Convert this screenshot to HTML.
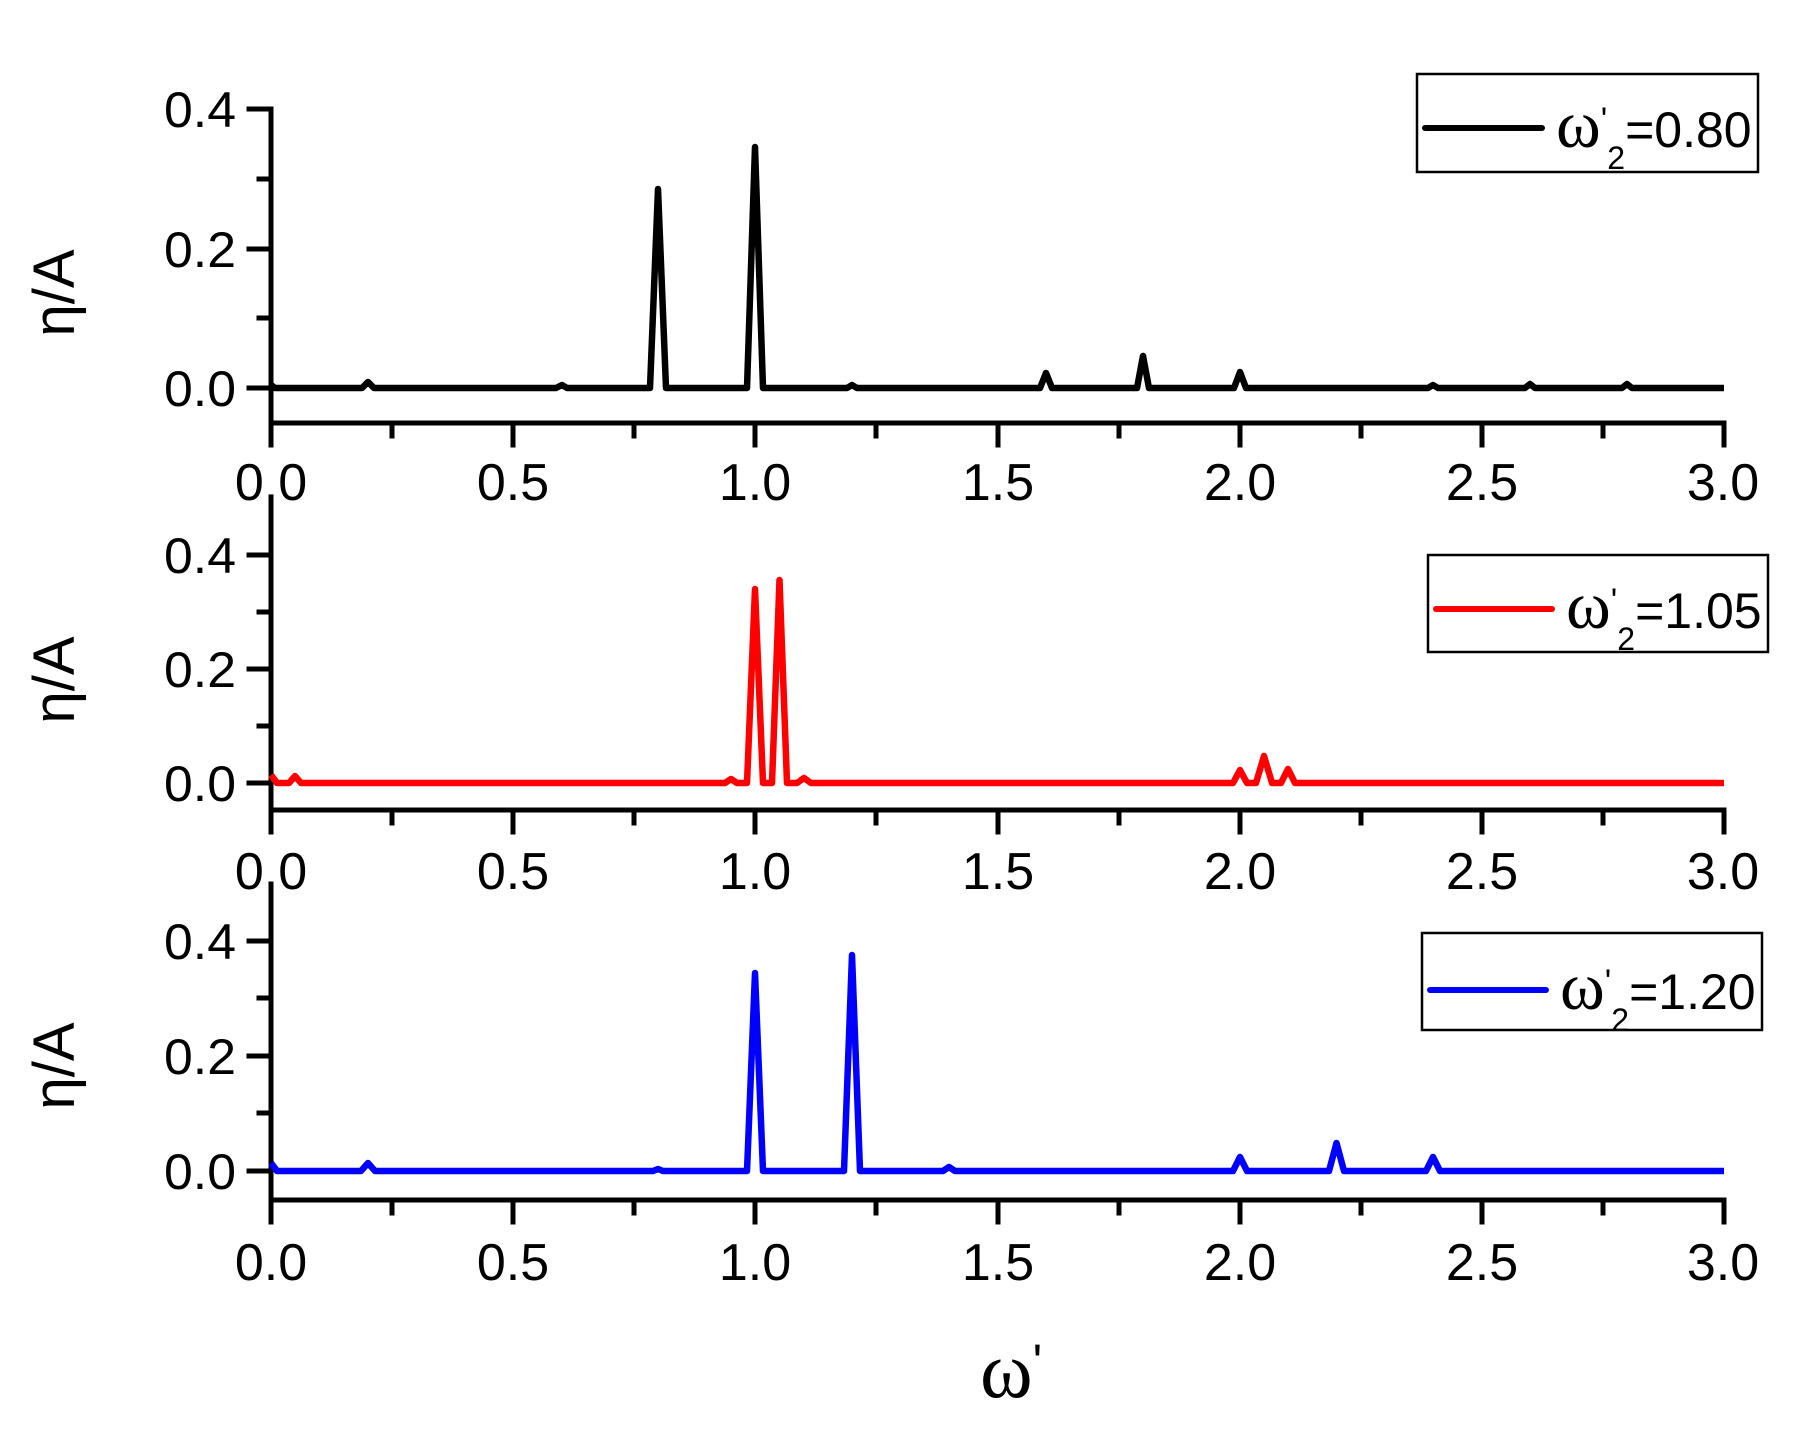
<!DOCTYPE html>
<html><head><meta charset="utf-8"><style>html,body{margin:0;padding:0;background:#fff}svg{display:block}</style></head>
<body>
<svg width="1818" height="1436" viewBox="0 0 1818 1436" xmlns="http://www.w3.org/2000/svg" font-family="'Liberation Sans', sans-serif">
<g stroke="#000" stroke-width="5" fill="none" stroke-linecap="square">
<path d="M271 109 V445 M271 423 H1724 V445"/>
<path d="M249 109 H271 M259 179 H271 M249 249 H271 M259 318 H271 M249 388 H271"/>
<path d="M392 423 v13 M513 423 v22 M634 423 v13 M755 423 v22 M876 423 v13 M998 423 v22 M1119 423 v13 M1240 423 v22 M1361 423 v13 M1482 423 v22 M1603 423 v13"/>
<path d="M271 497 V832 M271 810 H1724 V832"/>
<path d="M249 555 H271 M259 612 H271 M249 669 H271 M259 726 H271 M249 783 H271"/>
<path d="M392 810 v13 M513 810 v22 M634 810 v13 M755 810 v22 M876 810 v13 M998 810 v22 M1119 810 v13 M1240 810 v22 M1361 810 v13 M1482 810 v22 M1603 810 v13"/>
<path d="M271 884 V1222 M271 1200 H1724 V1222"/>
<path d="M249 941 H271 M259 998 H271 M249 1056 H271 M259 1113 H271 M249 1171 H271"/>
<path d="M392 1200 v13 M513 1200 v22 M634 1200 v13 M755 1200 v22 M876 1200 v13 M998 1200 v22 M1119 1200 v13 M1240 1200 v22 M1361 1200 v13 M1482 1200 v22 M1603 1200 v13"/>
</g>
<g fill="none" stroke-width="6.5" stroke-linejoin="round">
<path stroke="#000" d="M271 385 L275 388 L362 388 L368 382 L374 388 L556 388 L562 385 L567 388 L650 388 L658 189 L666 388 L747 388 L755 147 L763 388 L847 388 L852 385 L857 388 L1040 388 L1046 373 L1052 388 L1137 388 L1143 356 L1149 388 L1234 388 L1240 372 L1246 388 L1428 388 L1433 385 L1438 388 L1525 388 L1530 384 L1535 388 L1622 388 L1627 384 L1632 388 L1724 388"/>
<path stroke="#f00" d="M271 775 L277 783 L289 783 L295 776 L301 783 L725 783 L731 779 L737 783 L747 783 L755 589 L763 783 L772 783 L779.5 580 L787 783 L797 783 L804 778 L811 783 L1233 783 L1240 770 L1247 783 L1256 783 L1264 756 L1272 783 L1281 783 L1288 769 L1295 783 L1724 783"/>
<path stroke="#00f" d="M271 1163 L277 1171 L361 1171 L368 1163 L375 1171 L653 1171 L658 1169 L663 1171 L747 1171 L755 973 L763 1171 L844 1171 L852 955 L860 1171 L943 1171 L949 1167 L955 1171 L1233 1171 L1240 1157 L1247 1171 L1329 1171 L1336.5 1143 L1344 1171 L1426 1171 L1433 1157 L1440 1171 L1724 1171"/>
</g>
<g font-size="50" fill="#000" text-anchor="end">
<text x="236" y="127" textLength="72" lengthAdjust="spacingAndGlyphs">0.4</text>
<text x="236" y="267" textLength="72" lengthAdjust="spacingAndGlyphs">0.2</text>
<text x="236" y="406" textLength="72" lengthAdjust="spacingAndGlyphs">0.0</text>
<text x="236" y="573" textLength="72" lengthAdjust="spacingAndGlyphs">0.4</text>
<text x="236" y="687" textLength="72" lengthAdjust="spacingAndGlyphs">0.2</text>
<text x="236" y="801" textLength="72" lengthAdjust="spacingAndGlyphs">0.0</text>
<text x="236" y="959" textLength="72" lengthAdjust="spacingAndGlyphs">0.4</text>
<text x="236" y="1074" textLength="72" lengthAdjust="spacingAndGlyphs">0.2</text>
<text x="236" y="1189" textLength="72" lengthAdjust="spacingAndGlyphs">0.0</text>
</g>
<g font-size="52" fill="#000" text-anchor="middle">
<text x="271" y="500">0.0</text><text x="513" y="500">0.5</text><text x="755" y="500">1.0</text><text x="998" y="500">1.5</text><text x="1240" y="500">2.0</text><text x="1482" y="500">2.5</text><text x="1723" y="500">3.0</text>
<text x="271" y="889">0.0</text><text x="513" y="889">0.5</text><text x="755" y="889">1.0</text><text x="998" y="889">1.5</text><text x="1240" y="889">2.0</text><text x="1482" y="889">2.5</text><text x="1723" y="889">3.0</text>
<text x="271" y="1280">0.0</text><text x="513" y="1280">0.5</text><text x="755" y="1280">1.0</text><text x="998" y="1280">1.5</text><text x="1240" y="1280">2.0</text><text x="1482" y="1280">2.5</text><text x="1723" y="1280">3.0</text>
</g>
<g font-size="58" fill="#000" text-anchor="middle">
<text transform="translate(74,293) rotate(-90)">η/A</text>
<text transform="translate(74,680) rotate(-90)">η/A</text>
<text transform="translate(74,1066) rotate(-90)">η/A</text>
</g>
<text x="980" y="1397" font-size="80" font-family="'Liberation Serif', serif">ω<tspan font-size="50" font-family="'Liberation Sans', sans-serif" dy="-18">'</tspan></text>
<g stroke-width="2.5" fill="#fff" stroke="#000">
<rect x="1417" y="74" width="341" height="98"/>
<rect x="1428" y="555" width="340" height="97"/>
<rect x="1422" y="933" width="340" height="97"/>
</g>
<g stroke-width="6" stroke-linecap="round">
<path stroke="#000" d="M1425 128 H1542"/>
<path stroke="#f00" d="M1436 609 H1552"/>
<path stroke="#00f" d="M1430 990 H1546"/>
</g>
<g fill="#000" font-size="50">
<text x="1556" y="147"><tspan font-family="'Liberation Serif', serif" font-size="68">ω</tspan><tspan font-size="34" dy="-16">'</tspan><tspan font-size="32" dy="38">2</tspan><tspan dy="-22">=0.80</tspan></text>
<text x="1566" y="628"><tspan font-family="'Liberation Serif', serif" font-size="68">ω</tspan><tspan font-size="34" dy="-16">'</tspan><tspan font-size="32" dy="38">2</tspan><tspan dy="-22">=1.05</tspan></text>
<text x="1560" y="1009"><tspan font-family="'Liberation Serif', serif" font-size="68">ω</tspan><tspan font-size="34" dy="-16">'</tspan><tspan font-size="32" dy="38">2</tspan><tspan dy="-22">=1.20</tspan></text>
</g>
</svg>
</body></html>
